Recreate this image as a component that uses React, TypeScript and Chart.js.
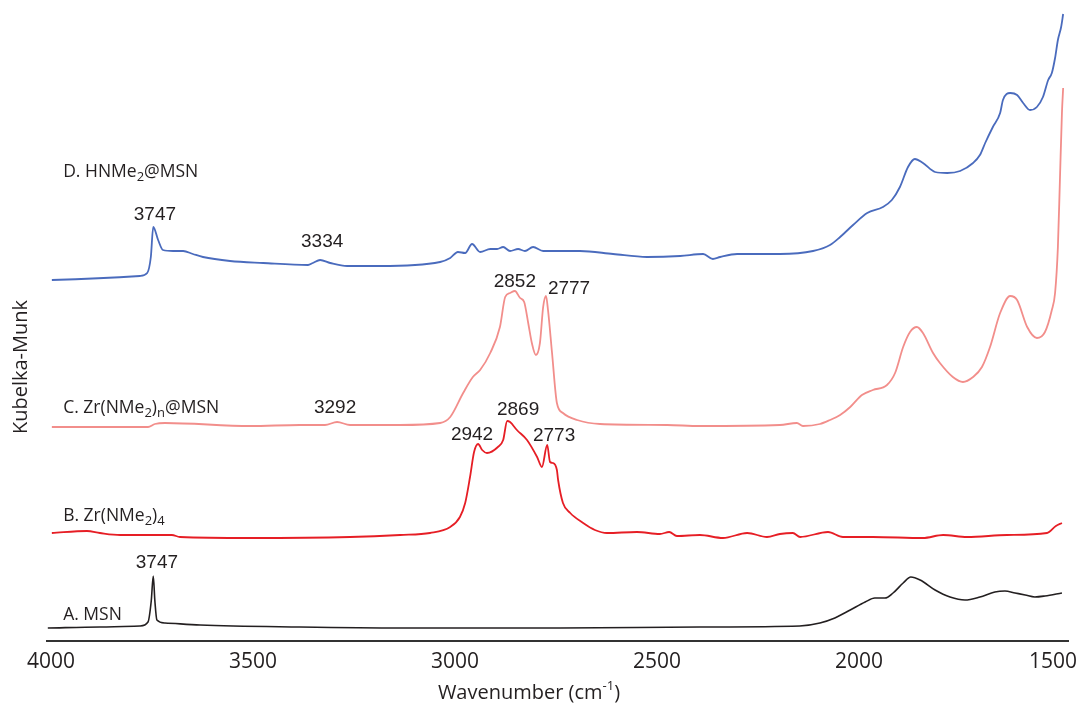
import React, { useEffect, useRef } from "react";
import { Chart, registerables } from "chart.js";

Chart.register(...registerables);

// ---- Data (wavenumber in cm-1, Kubelka-Munk with vertical offsets) ----
const wnA = [4008, 3879, 3780, 3760, 3752, 3747, 3743, 3738, 3718, 3631, 3384, 3136, 2889, 2740, 2394, 2147, 2097, 2060, 2022, 1985, 1961, 1936, 1916, 1891, 1872, 1849, 1812, 1775, 1738, 1701, 1664, 1639, 1614, 1589, 1565, 1540, 1498];
const kmA = [0.13, 0.14, 0.15, 0.19, 0.4, 0.65, 0.4, 0.21, 0.18, 0.16, 0.14, 0.13, 0.13, 0.13, 0.14, 0.15, 0.18, 0.23, 0.31, 0.39, 0.43, 0.43, 0.48, 0.58, 0.64, 0.61, 0.51, 0.44, 0.41, 0.44, 0.49, 0.5, 0.48, 0.46, 0.44, 0.45, 0.48];

const wnB = [3998, 3911, 3879, 3829, 3755, 3701, 3681, 3507, 3260, 3136, 3062, 3012, 2988, 2975, 2963, 2953, 2943, 2933, 2921, 2894, 2881, 2871, 2864, 2847, 2822, 2797, 2785, 2772, 2765, 2758, 2748, 2745, 2733, 2715, 2683, 2654, 2624, 2550, 2493, 2470, 2451, 2394, 2337, 2277, 2228, 2196, 2164, 2146, 2077, 2040, 1966, 1842, 1792, 1733, 1634, 1535, 1513, 1498];
const kmB = [1.08, 1.1, 1.08, 1.06, 1.06, 1.06, 1.04, 1.03, 1.04, 1.06, 1.08, 1.14, 1.24, 1.38, 1.64, 1.89, 1.97, 1.91, 1.88, 1.94, 2.01, 2.2, 2.19, 2.11, 2.01, 1.84, 1.74, 1.96, 1.79, 1.78, 1.71, 1.61, 1.38, 1.28, 1.18, 1.11, 1.08, 1.09, 1.07, 1.09, 1.05, 1.06, 1.03, 1.08, 1.04, 1.07, 1.08, 1.04, 1.09, 1.04, 1.04, 1.03, 1.06, 1.04, 1.06, 1.08, 1.15, 1.18];

const wnC = [3998, 3879, 3760, 3743, 3718, 3507, 3384, 3322, 3292, 3260, 3136, 3037, 3012, 2980, 2956, 2938, 2913, 2889, 2876, 2864, 2852, 2839, 2829, 2819, 2810, 2800, 2790, 2782, 2775, 2770, 2760, 2748, 2733, 2698, 2641, 2475, 2394, 2196, 2154, 2139, 2097, 2072, 2047, 2022, 1993, 1966, 1931, 1911, 1891, 1874, 1857, 1842, 1817, 1800, 1768, 1743, 1718, 1696, 1676, 1651, 1626, 1609, 1584, 1560, 1540, 1523, 1515, 1508, 1503, 1498, 1495];
const kmC = [2.14, 2.14, 2.14, 2.17, 2.18, 2.15, 2.16, 2.16, 2.19, 2.16, 2.16, 2.18, 2.24, 2.48, 2.64, 2.71, 2.88, 3.14, 3.44, 3.48, 3.5, 3.43, 3.39, 3.18, 2.98, 2.86, 2.98, 3.34, 3.45, 3.31, 2.88, 2.38, 2.28, 2.21, 2.17, 2.16, 2.15, 2.16, 2.18, 2.15, 2.17, 2.21, 2.26, 2.34, 2.46, 2.51, 2.56, 2.68, 2.94, 3.09, 3.14, 3.08, 2.88, 2.78, 2.64, 2.59, 2.64, 2.74, 2.94, 3.28, 3.45, 3.41, 3.14, 3.03, 3.09, 3.31, 3.48, 3.94, 4.61, 5.28, 5.53];

const wnD = [3998, 3780, 3762, 3753, 3747, 3735, 3723, 3698, 3673, 3649, 3624, 3557, 3475, 3364, 3352, 3334, 3309, 3267, 3186, 3037, 3012, 2993, 2975, 2958, 2938, 2913, 2896, 2881, 2864, 2844, 2827, 2807, 2782, 2691, 2609, 2525, 2443, 2386, 2362, 2344, 2302, 2196, 2114, 2072, 2047, 2015, 1980, 1941, 1919, 1899, 1879, 1862, 1842, 1812, 1782, 1750, 1718, 1701, 1688, 1669, 1651, 1644, 1626, 1609, 1594, 1577, 1560, 1545, 1532, 1523, 1515, 1508, 1500, 1495];
const kmD = [3.61, 3.65, 3.68, 3.84, 4.14, 4.01, 3.91, 3.9, 3.9, 3.87, 3.84, 3.8, 3.78, 3.76, 3.78, 3.81, 3.78, 3.75, 3.75, 3.79, 3.83, 3.89, 3.88, 3.97, 3.89, 3.92, 3.92, 3.94, 3.9, 3.92, 3.9, 3.94, 3.9, 3.9, 3.87, 3.84, 3.85, 3.87, 3.82, 3.84, 3.87, 3.87, 3.9, 3.96, 4.04, 4.16, 4.28, 4.34, 4.41, 4.54, 4.74, 4.82, 4.78, 4.69, 4.68, 4.7, 4.78, 4.86, 4.98, 5.14, 5.28, 5.41, 5.48, 5.46, 5.38, 5.31, 5.34, 5.44, 5.61, 5.68, 5.83, 6.01, 6.14, 6.27];

const xTicks = [4000, 3500, 3000, 2500, 2000, 1500];
const xMin = 1483;
const xMax = 4010;
const yMin = 0;
const yMax = 6.41;

// Series names: parts, "s" = subscript
const seriesNames = [
  { parts: [["D. HNMe", ""], ["2", "s"], ["@MSN", ""]], x: 3970, y: 4.64 },
  { parts: [["C. Zr(NMe", ""], ["2", "s"], [")", ""], ["n", "s"], ["@MSN", ""]], x: 3970, y: 2.28 },
  { parts: [["B. Zr(NMe", ""], ["2", "s"], [")", ""], ["4", "s"]], x: 3970, y: 1.2 },
  { parts: [["A. MSN", ""]], x: 3970, y: 0.21 },
];

// Peak labels: text, wavenumber of label centre, baseline value
const peakTexts = ["3747", "3334", "2852", "2777", "3292", "2869", "2942", "2773", "3747"];
const peakX = [3743, 3329, 2852, 2718, 3297, 2844, 2958, 2755, 3738];
const peakY = [4.21, 3.94, 3.54, 3.47, 2.28, 2.26, 2.01, 2.0, 0.73];

const TEXT = "#231f20";
const LABEL_FONT = '"Open Sans", "Noto Sans", sans-serif';
const PEAK_FONT = '"Liberation Sans", Arial, sans-serif';

function pts(xs: number[], ys: number[]) {
  return xs.map((x, i) => ({ x, y: ys[i] }));
}

function drawRich(ctx: CanvasRenderingContext2D, parts: string[][], x: number, y: number, size: number) {
  let cx = x;
  for (const [t, kind] of parts) {
    if (kind === "s") {
      ctx.font = `${Math.round(size * 0.72)}px ${LABEL_FONT}`;
      ctx.fillText(t, cx, y + size * 0.2);
    } else if (kind === "u") {
      ctx.font = `${Math.round(size * 0.65)}px ${LABEL_FONT}`;
      ctx.fillText(t, cx, y - size * 0.45);
    } else {
      ctx.font = `${size}px ${LABEL_FONT}`;
      ctx.fillText(t, cx, y);
    }
    cx += ctx.measureText(t).width;
  }
  return cx - x;
}

function measureRich(ctx: CanvasRenderingContext2D, parts: string[][], size: number) {
  let w = 0;
  for (const [t, kind] of parts) {
    const s = kind === "s" ? Math.round(size * 0.72) : kind === "u" ? Math.round(size * 0.65) : size;
    ctx.font = `${s}px ${LABEL_FONT}`;
    w += ctx.measureText(t).width;
  }
  return w;
}

const annotations = {
  id: "annotations",
  afterDraw(chart: any) {
    const { ctx } = chart;
    const xs = chart.scales.x;
    const ys = chart.scales.y;
    ctx.save();
    ctx.fillStyle = TEXT;
    ctx.textBaseline = "alphabetic";

    // peak labels
    ctx.textAlign = "center";
    ctx.font = `19px ${PEAK_FONT}`;
    peakTexts.forEach((t, i) => {
      ctx.fillText(t, xs.getPixelForValue(peakX[i]), ys.getPixelForValue(peakY[i]));
    });

    // series names
    ctx.textAlign = "left";
    seriesNames.forEach((s) => {
      drawRich(ctx, s.parts, xs.getPixelForValue(s.x), ys.getPixelForValue(s.y), 17.5);
    });

    // x axis title
    const xTitle = [["Wavenumber (cm", ""], ["-1", "u"], [")", ""]];
    const w = measureRich(ctx, xTitle, 20);
    drawRich(ctx, xTitle, 529 - w / 2, 699, 20);

    // y axis title
    ctx.save();
    ctx.translate(27, 367);
    ctx.rotate(-Math.PI / 2);
    ctx.textAlign = "center";
    ctx.font = `20px ${LABEL_FONT}`;
    ctx.fillText("Kubelka-Munk", 0, 0);
    ctx.restore();

    ctx.restore();
  },
};

export default function App() {
  const ref = useRef<HTMLCanvasElement | null>(null);

  useEffect(() => {
    if (!ref.current) return;
    const line = (label: string, data: any, color: string, width: number) => ({
      label,
      data,
      borderColor: color,
      backgroundColor: color,
      borderWidth: width,
      pointRadius: 0,
      fill: false,
      cubicInterpolationMode: "monotone" as const,
    });
    const chart = new Chart(ref.current, {
      type: "line",
      data: {
        datasets: [
          line("A. MSN", pts(wnA, kmA), "#231f20", 1.6),
          line("B. Zr(NMe2)4", pts(wnB, kmB), "#e61e25", 1.8),
          line("C. Zr(NMe2)n@MSN", pts(wnC, kmC), "#f28e8b", 1.8),
          line("D. HNMe2@MSN", pts(wnD, kmD), "#4a6bbd", 1.8),
        ],
      },
      options: {
        animation: false,
        responsive: false,
        maintainAspectRatio: false,
        layout: { padding: { left: 47, right: 10, top: 0, bottom: 0 } },
        plugins: {
          legend: { display: false },
          tooltip: { enabled: false },
        },
        scales: {
          x: {
            type: "linear",
            reverse: true,
            min: xMin,
            max: xMax,
            afterBuildTicks: (scale: any) => {
              scale.ticks = xTicks.map((v) => ({ value: v }));
            },
            afterFit: (scale: any) => {
              scale.height = 68;
              scale.paddingLeft = 0;
              scale.paddingRight = 0;
            },
            grid: { display: false, drawTicks: false },
            border: { display: true, color: "#333333", width: 2 },
            ticks: {
              autoSkip: false,
              maxRotation: 0,
              padding: 8,
              color: TEXT,
              font: { family: LABEL_FONT, size: 21 },
              // the last label is kept inside the canvas, as in the figure
              callback: (v: any) => (v === xTicks[xTicks.length - 1] ? String(v) + "\u00a0\u00a0\u00a0" : String(v)),
            },
          },
          y: {
            type: "linear",
            display: false,
            min: yMin,
            max: yMax,
          },
        },
      },
      plugins: [annotations],
    });
    return () => chart.destroy();
  }, []);

  return (
    <div style={{ position: "absolute", left: 0, top: 0, width: 1078, height: 709, background: "#ffffff" }}>
      <canvas ref={ref} width={1078} height={709} />
    </div>
  );
}
